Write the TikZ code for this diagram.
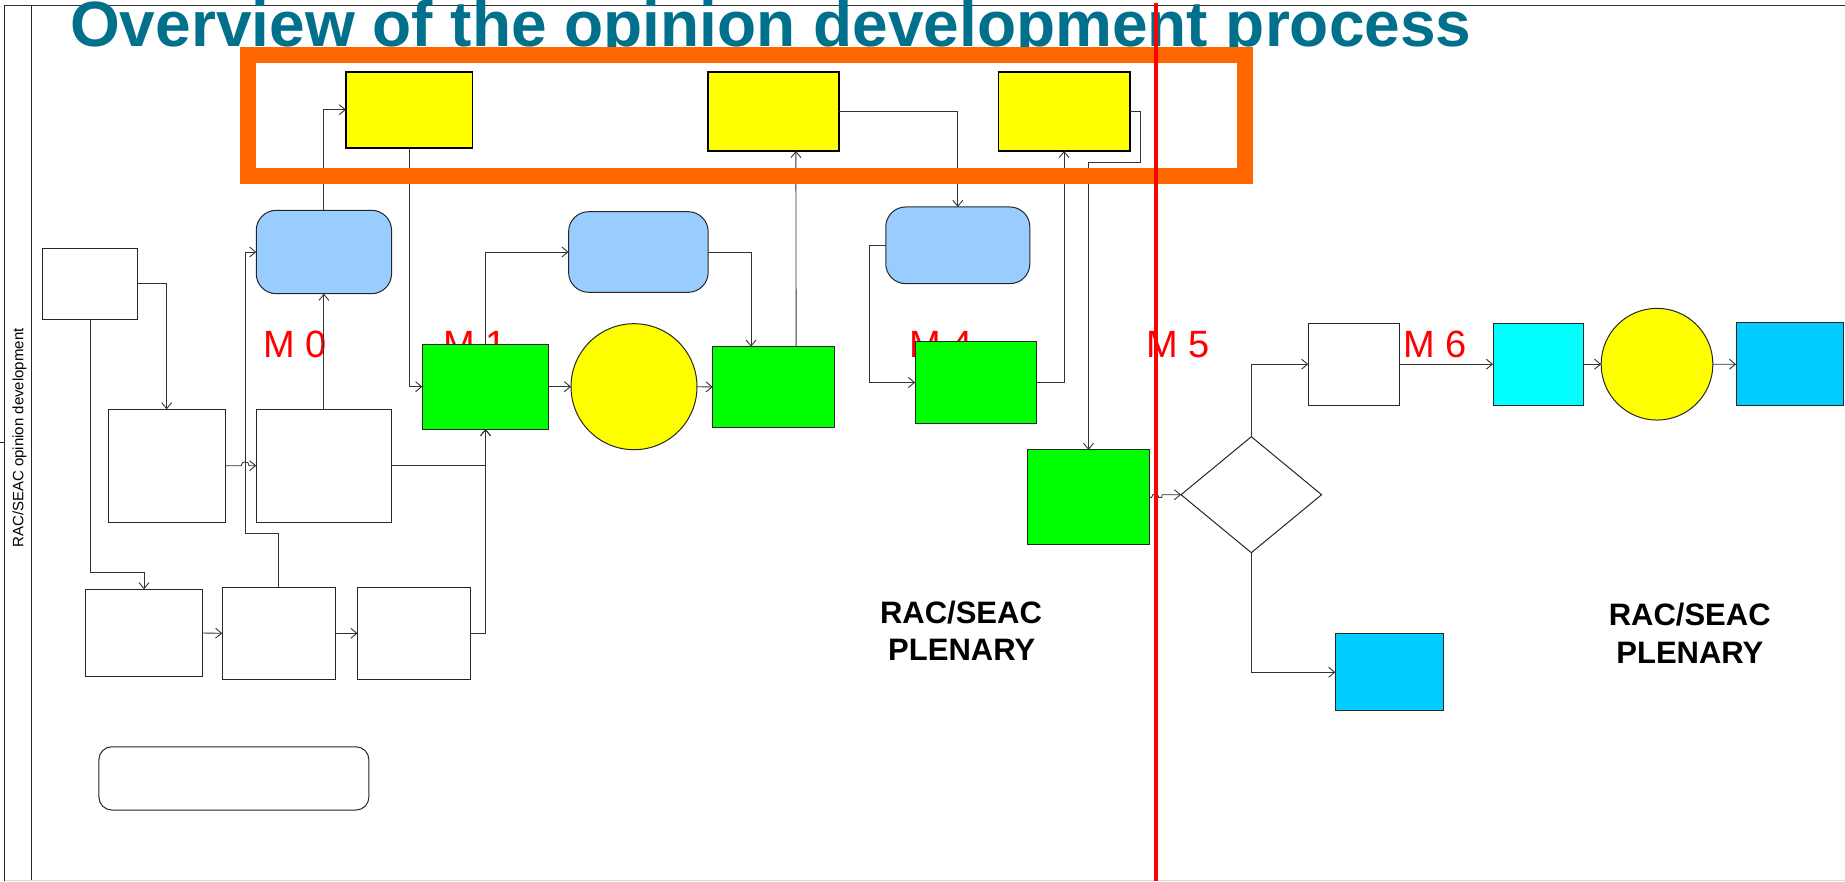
\documentclass[tikz,border=0pt]{standalone}
\usepackage{fontspec}
\setmainfont{Liberation Sans}
\usetikzlibrary{arrows.meta,shapes.geometric}
\definecolor{titlecol}{RGB}{0,112,140}
\definecolor{orangec}{RGB}{255,102,0}
\definecolor{ltblue}{RGB}{153,204,255}
\definecolor{skyb}{RGB}{0,204,255}
\definecolor{lgreen}{RGB}{0,255,0}
\definecolor{cyanc}{RGB}{0,255,255}
\definecolor{yel}{RGB}{255,255,0}
\definecolor{redc}{RGB}{255,0,0}
\tikzset{
  bx/.style={draw=black!85, line width=1pt, inner sep=0pt, outer sep=0pt, rectangle},
  whitebox/.style={bx, fill=white},
  yelbox/.style={bx, fill=yel, draw=black, line width=1.8pt},
  grnbox/.style={bx, fill=lgreen},
  rndbox/.style={bx, fill=ltblue, rounded corners=20pt},
  arr/.style={draw=black!80, line width=0.9pt, -{Straight Barb[length=6pt,width=10pt]}},
  mlab/.style={text=redc, font=\fontsize{38}{40}\selectfont, inner sep=0pt, anchor=base west},
  plen/.style={font=\bfseries\fontsize{31}{34}\selectfont, inner sep=0pt, anchor=base},
}
\begin{document}
\begin{tikzpicture}[x=1pt,y=-1pt]
\useasboundingbox (0,0) rectangle (1845,881);
% frame
\draw[black!80, line width=1pt] (4.5,5) -- (1845,5);
\draw[black!85, line width=1pt] (4.5,5) -- (4.5,881);
\draw[black!85, line width=1pt] (31.7,5) -- (31.7,881);
\draw[black!15, line width=1pt] (4.5,880) -- (1845,880);
\draw[black!85, line width=1pt] (0,442) -- (4.5,442);
\node[rotate=90, anchor=base, inner sep=0pt, font=\fontsize{15}{17}\selectfont] (lane) at (23.3,438) {RAC/SEAC opinion development};
% title
\node[anchor=base west, inner sep=0pt, text=titlecol, font=\bfseries\fontsize{64}{70}\selectfont] (title) at (70,46.5) {Overview of the opinion development process};
% milestone labels
\node[mlab] (m0) at (263,357.3) {M 0};
\node[mlab] (m1) at (443.2,357.3) {M 1};
\node[mlab] (m4) at (909,357.3) {M 4};
\node[mlab] (m5) at (1146,357.3) {M 5};
\node[mlab] (m6) at (1403.4,357.3) {M 6};
% plenary labels
\node[plen] (pl1a) at (961,623.3) {RAC/SEAC};
\node[plen] (pl1b) at (961.7,660.7) {PLENARY};
\node[plen] (pl2a) at (1689.7,625) {RAC/SEAC};
\node[plen] (pl2b) at (1689.9,663.3) {PLENARY};
% boxes
\node[whitebox, minimum width=94.5pt, minimum height=71pt] (W1) at (90,283.8) {};
\node[whitebox, minimum width=117.4pt, minimum height=112.7pt] (W2) at (166.7,465.7) {};
\node[whitebox, minimum width=135.3pt, minimum height=112.7pt] (W3) at (323.9,465.7) {};
\node[whitebox, minimum width=117.1pt, minimum height=87.4pt] (W4) at (144,633) {};
\node[whitebox, minimum width=113.1pt, minimum height=92pt] (W5) at (278.8,633.3) {};
\node[whitebox, minimum width=112.6pt, minimum height=92pt] (W6) at (413.8,633.3) {};
\node[whitebox, rounded corners=13pt, minimum width=270pt, minimum height=63.3pt] (R) at (233.9,778.4) {};
\node[rndbox, minimum width=135.3pt, minimum height=83.4pt] (B1) at (323.9,252) {};
\node[rndbox, minimum width=139.6pt, minimum height=80.6pt] (B2) at (638.4,252) {};
\node[rndbox, minimum width=144.1pt, minimum height=76.7pt] (B3) at (957.8,245.3) {};
\node[yelbox, minimum width=126.5pt, minimum height=76pt] (Y1) at (409.2,109.7) {};
\node[yelbox, minimum width=131.4pt, minimum height=79.3pt] (Y2) at (773.5,111.3) {};
\node[yelbox, minimum width=131.4pt, minimum height=79.3pt] (Y3) at (1064.1,111.3) {};
\node[grnbox, minimum width=126.5pt, minimum height=84.7pt] (G1) at (485.5,386.7) {};
\node[bx, circle, fill=yel, minimum size=126pt] (C1) at (634,386.7) {};
\node[grnbox, minimum width=122pt, minimum height=80.6pt] (G2) at (773.7,387) {};
\node[grnbox, minimum width=121.6pt, minimum height=81.6pt] (G3) at (975.9,382.5) {};
\node[grnbox, minimum width=121.6pt, minimum height=94.7pt] (G4) at (1088.5,497.3) {};
\node[bx, diamond, fill=white, minimum width=140.5pt, minimum height=116pt] (D) at (1251.3,494.7) {};
\node[whitebox, minimum width=90.9pt, minimum height=81.7pt] (W7) at (1353.7,364.2) {};
\node[bx, fill=cyanc, minimum width=90pt, minimum height=81.7pt] (Cy) at (1538,364.2) {};
\node[bx, circle, fill=yel, minimum size=111.7pt] (C2) at (1657,364.2) {};
\node[bx, fill=skyb, minimum width=107.7pt, minimum height=83.3pt] (Bl1) at (1789.9,364.3) {};
\node[bx, fill=skyb, minimum width=108.1pt, minimum height=76.7pt] (Bl2) at (1389.4,672.3) {};
% helper coordinates
\coordinate (k1) at (90,572.3);
\coordinate (h1) at (241.2,465.7);
\coordinate (k3) at (245.2,533);
\coordinate (k4) at (869,245.3);
\coordinate (k5) at (1140.8,162.3);
\coordinate (h2) at (1151.7,497.3);
\coordinate (h2e) at (1162,497.3);
% connectors
\draw[arr] (W1.east) -| (W2.north);
\draw[arr] (W1.south) -- (k1) -| (W4.north);
\draw[arr] (W2.east) -- (h1) arc (180:0:4pt) -- (W3.west);
\draw[arr] (W5.north) |- (k3) |- (B1.west);
\draw[arr] (W3.north) -- (B1.south);
\draw[arr] (B1.north) |- (Y1.west);
\draw[arr] (Y1.south) |- (G1.west);
\draw[arr] (W3.east) -| (G1.south);
\draw[arr] (W6.east) -| (G1.south);
\draw[arr] (W4.east) -- (W5.west);
\draw[arr] (W5.east) -- (W6.west);
\draw[arr] (G1.north) |- (B2.west);
\draw[arr] (G1.east) -- (C1.west);
\draw[arr] (B2.east) -| ([xshift=-22.7pt]G2.north);
\draw[arr] (C1.east) -- (G2.west);
\draw[arr] ([xshift=22.4pt]G2.north) -- ([xshift=22.4pt]Y2.south);
\draw[arr] (Y2.east) -| (B3.north);
\draw[arr] (B3.west) -- (k4) |- (G3.west);
\draw[arr] (G3.east) -| (Y3.south);
\draw[arr] (Y3.east) -| (k5) -| (G4.north);
\draw[arr] (G4.east) -- (h2) arc (180:0:3.5pt) -- (h2e) |- (D.west);
\draw[arr] (D.north) |- (W7.west);
\draw[arr] (D.south) |- (Bl2.west);
\draw[arr] (W7.east) -- (Cy.west);
\draw[arr] (Cy.east) -- (C2.west);
\draw[arr] (C2.east) -- (Bl1.west);
% orange highlight
\draw[orangec, line width=16pt] (247.5,55) rectangle (1245.3,176.2);
% red milestone line
\draw[redc, line width=4.5pt] (1156,3) -- (1156,881);
\end{tikzpicture}
\end{document}
